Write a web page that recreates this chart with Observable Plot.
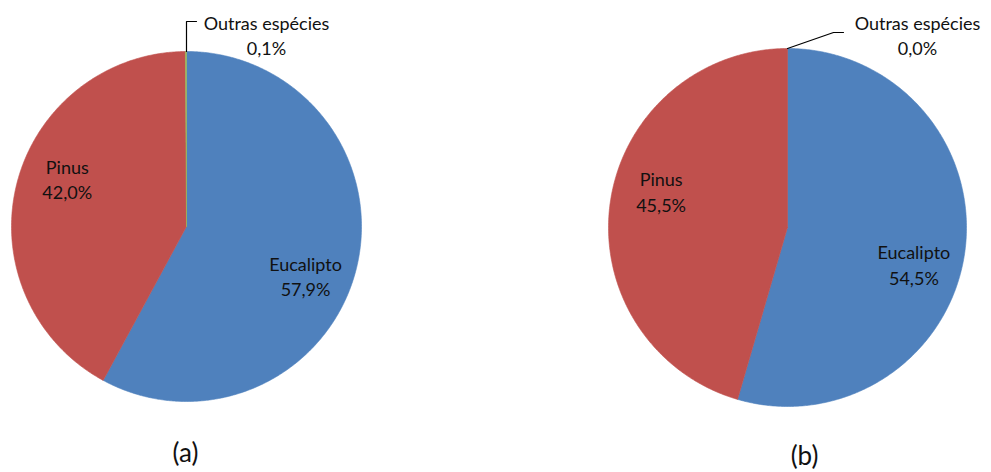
<!DOCTYPE html>
<html><head><meta charset="utf-8">
<script src="https://cdn.jsdelivr.net/npm/d3@7"></script>
<script src="https://cdn.jsdelivr.net/npm/@observablehq/plot@0.6"></script>
<style>body{margin:0;background:#fff} svg{display:block}</style>
</head><body><div id="chart"></div>
<script>
// ---- data ----
const species = ["Eucalipto", "Pinus", "Outras espécies"];
const valuesA = [57.9, 42.0, 0.1];
const valuesB = [54.5, 45.5, 0.0];
const percentLabelsA = ["57,9%", "42,0%", "0,1%"];
const percentLabelsB = ["54,5%", "45,5%", "0,0%"];
const panelLabels = ["(a)", "(b)"];

// ---- styles / layout ----
const colors = ["#4F81BD", "#C0504D", "#9BBB59"];
const W = 991, H = 472;
const pies = [
  {values: valuesA, labels: percentLabelsA, cx: 186, cy: 226, r: 175,
   tagX: 185, tagY: 453,
   calloutText: [80, -192], leader: [[0, -175], [0, -205], [10, -205]]},
  {values: valuesB, labels: percentLabelsB, cx: 787, cy: 227, r: 179,
   tagX: 804, tagY: 456,
   calloutText: [130, -193], leader: [[0, -179], [46, -195], [56, -195]]}
];

const marks = [];
const textRows = [];
const tagRows = [];
pies.forEach((p, pi) => {
  const arcs = d3.pie().sort(null).value(d => d)(p.values);
  arcs.forEach((a, i) => {
    if (a.endAngle > a.startAngle) {
      const pts = [{x: p.cx, y: p.cy}];
      const steps = Math.max(2, Math.ceil((a.endAngle - a.startAngle) / (Math.PI / 360)));
      for (let k = 0; k <= steps; k++) {
        const t = a.startAngle + (a.endAngle - a.startAngle) * k / steps;
        pts.push({x: p.cx + p.r * Math.sin(t), y: p.cy - p.r * Math.cos(t)});
      }
      pts.push({x: p.cx, y: p.cy});
      marks.push(Plot.line(pts, {x: "x", y: "y", fill: colors[i], stroke: colors[i], strokeWidth: 0.6}));
    }
    const txt = species[i] + "\n" + p.labels[i];
    if (i < 2) {
      const mid = (a.startAngle + a.endAngle) / 2 + 8 * Math.PI / 180;
      const rr = 0.735 * p.r;
      textRows.push({x: p.cx + rr * Math.sin(mid), y: p.cy - rr * Math.cos(mid), text: txt});
    } else {
      textRows.push({x: p.cx + p.calloutText[0], y: p.cy + p.calloutText[1], text: txt});
      const lp = p.leader.map(([dx, dy]) => ({x: p.cx + dx, y: p.cy + dy}));
      marks.push(Plot.line(lp, {x: "x", y: "y", stroke: "black", strokeWidth: 1.2}));
    }
  });
  tagRows.push({x: p.tagX, y: p.tagY, text: panelLabels[pi]});
});

marks.push(Plot.text(textRows, {x: "x", y: "y", text: "text", fontSize: 18, lineHeight: 1.42, fill: "#111"}));
marks.push(Plot.text(tagRows, {x: "x", y: "y", text: "text", fontSize: 26, fill: "#111"}));

const chart = Plot.plot({
  width: W, height: H,
  margin: 0,
  x: {domain: [0, W], range: [0, W], axis: null},
  y: {domain: [0, H], range: [0, H], axis: null},
  style: {fontFamily: "Lato, 'Open Sans', sans-serif", background: "#fff"},
  marks
});
document.getElementById("chart").appendChild(chart);
</script>
</body></html>
